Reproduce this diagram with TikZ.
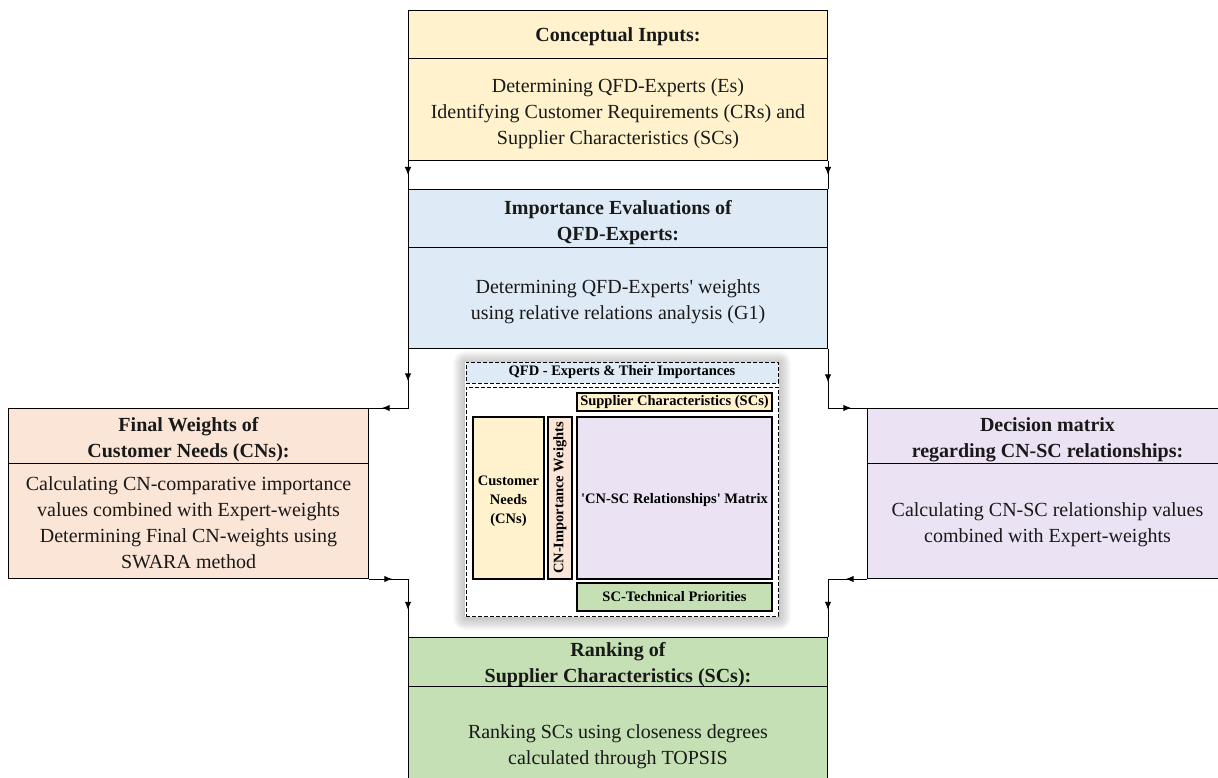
\documentclass[tikz,border=0pt]{standalone}
\usepackage{fontspec}
\setmainfont{Liberation Serif}
\usetikzlibrary{arrows.meta,decorations.markings}
\definecolor{yel}{HTML}{FFF2CC}
\definecolor{blu}{HTML}{DEEBF7}
\definecolor{pch}{HTML}{FBE5D6}
\definecolor{lav}{HTML}{EBE3F4}
\definecolor{grn}{HTML}{C5E0B4}
\newcommand\mlines[2][-3.5pt]{\raisebox{#1}[\height][\depth]{\begin{tabular}{@{}c@{}}#2\end{tabular}}}
\tikzset{
  mytip/.tip={Latex[length=8pt,width=6.5pt]},
  bx/.style={draw, line width=1pt, inner sep=0pt, anchor=north west, text=black!90},
  hd/.style={bx, font=\fontsize{20}{26}\selectfont\bfseries},
  bd/.style={bx, font=\fontsize{20}{26}\selectfont},
  wide/.style={minimum width=419pt},
  side/.style={minimum width=360pt},
  sm/.style={inner sep=0pt, font=\fontsize{14.5}{19}\selectfont\bfseries},
  smbox/.style={sm, draw, line width=1.1pt},
  dbox/.style={sm, draw, line width=0.8pt, dash pattern=on 4pt off 2pt},
  conn/.style={line width=1pt},
  twoarr/.style 2 args={postaction={decorate}, decoration={markings,
     mark=at position #1 with {\arrow{mytip}}, mark=at position #2 with {\arrow{mytip}}}},
  onearr/.style={postaction={decorate}, decoration={markings,
     mark=at position #1 with {\arrow{mytip}}}}
}
\begin{document}
\begin{tikzpicture}[x=1pt,y=-1pt]
\useasboundingbox (0,0) rectangle (1218,778);
\clip (0,0) rectangle (1218,778);

% top box
\node[hd, wide, fill=yel, minimum height=48pt] (tH) at (408,10) {\mlines[-2pt]{Conceptual Inputs:}};
\node[bd, wide, fill=yel, minimum height=102pt] (tB) at (408,58) {\mlines{Determining QFD-Experts (Es)\\Identifying Customer Requirements (CRs) and\\Supplier Characteristics (SCs)}};

% blue box
\node[hd, wide, fill=blu, minimum height=58pt] (bH) at (408,189) {\mlines{Importance Evaluations of\\QFD-Experts:}};
\node[bd, wide, fill=blu, minimum height=101pt] (bB) at (408,247) {\mlines{Determining QFD-Experts\textquotesingle{} weights\\using relative relations analysis (G1)}};

% left box
\node[hd, side, fill=pch, minimum height=55pt] (lH) at (8,408) {\mlines{Final Weights of\\Customer Needs (CNs):}};
\node[bd, side, fill=pch, minimum height=115pt] (lB) at (8,463) {\mlines{Calculating CN-comparative importance\\values combined with Expert-weights\\Determining Final CN-weights using\\SWARA method}};

% right box
\node[hd, side, fill=lav, minimum height=55pt] (rH) at (867,408) {\mlines{Decision matrix\\regarding CN-SC relationships:}};
\node[bd, side, fill=lav, minimum height=115pt] (rB) at (867,463) {\mlines{Calculating CN-SC relationship values\\combined with Expert-weights}};

% green box
\node[hd, wide, fill=grn, minimum height=49pt] (gH) at (408,637) {\mlines[-1pt]{Ranking of\\Supplier Characteristics (SCs):}};
\node[bd, wide, fill=grn, minimum height=116pt] (gB) at (408,686) {\mlines[-1.5pt]{Ranking SCs using closeness degrees\\calculated through TOPSIS}};

% connectors
\draw[conn, onearr=0.5] (tB.south west) -- (bH.north west);
\draw[conn, onearr=0.5] (tB.south east) -- (bH.north east);
\draw[conn, twoarr={0.33}{0.87}] (bB.south west) |- (lH.north east);
\draw[conn, twoarr={0.34}{0.84}] (bB.south east) |- (rH.north west);
\draw[conn, twoarr={0.24}{0.72}] (lB.south east) -| (gH.north west);
\draw[conn, twoarr={0.22}{0.72}] (rB.south west) -| (gH.north east);

% centre panel shadow
\foreach \i in {1,...,12} {
  \fill[black, opacity=0.02, rounded corners=\i pt] (465-\i, 363-\i) rectangle (779+\i, 618+\i);
}
\fill[white] (465,362) rectangle (779,617);

% centre panel
\node[dbox, fill=blu, minimum width=312pt, minimum height=21pt] (qH) at (622,372.5) {QFD - Experts \& Their Importances};
\node[dbox, fill=white, minimum width=312pt, minimum height=229pt] (qB) at (622,501.5) {};
\node[smbox, fill=yel, minimum width=195pt, minimum height=18pt] (scs) at (674.5,402) {Supplier Characteristics (SCs)};
\node[smbox, fill=yel, minimum width=71pt, minimum height=162pt] (cn) at (508.5,498) {\mlines[-2.5pt]{Customer\\Needs\\(CNs)}};
\node[smbox, fill=pch, minimum width=162pt, minimum height=24pt, rotate=90] (cnw) at (560,498) {CN-Importance Weights};
\node[smbox, fill=lav, minimum width=195pt, minimum height=162pt] (mat) at (674.5,498) {\mlines[-2pt]{\textquotesingle CN-SC Relationships\textquotesingle{} Matrix}};
\node[smbox, fill=grn, minimum width=195pt, minimum height=28pt] (pri) at (674.5,597) {SC-Technical Priorities};
\end{tikzpicture}
\end{document}
